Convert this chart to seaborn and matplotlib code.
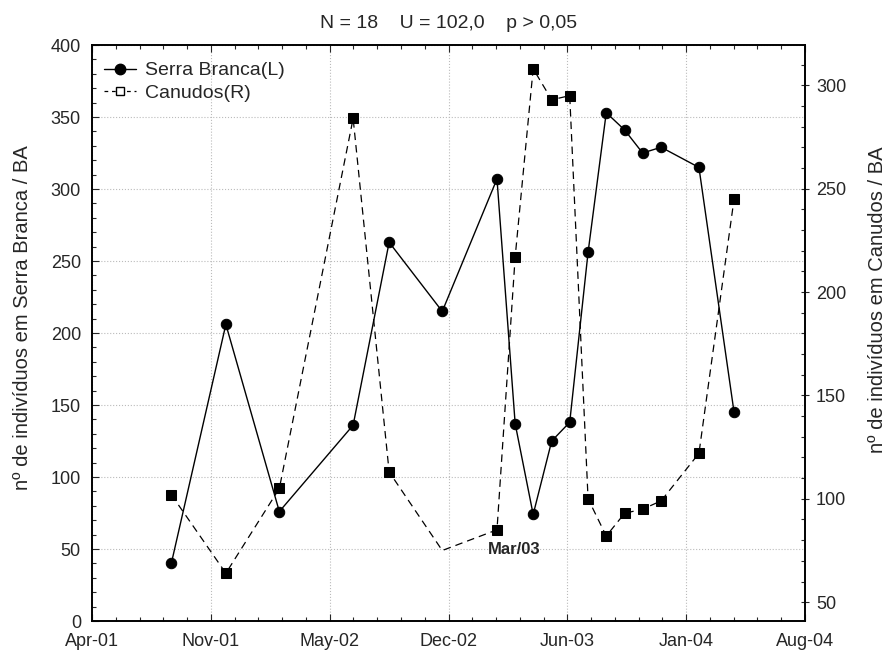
import matplotlib
matplotlib.use("Agg")
import matplotlib.pyplot as plt
from matplotlib.lines import Line2D
from matplotlib.ticker import AutoMinorLocator, MultipleLocator
import numpy as np
import pandas as pd
import seaborn as sns

# datas das coletas (meses desde Apr-01)
meses = [4.45, 7.51, 10.51, 14.65, 16.67, 19.65, 22.72, 23.74, 24.75,
         25.79, 26.80, 27.83, 28.85, 29.88, 30.89, 31.93, 34.05, 36.02]
serra_branca = [40, 206, 76, 136, 263, 215, 307, 137, 74,
                125, 138, 256, 353, 341, 325, 329, 315, 145]
canudos = [102, 64, 105, 284, 113, 75, 85, 217, 308,
           293, 295, 100, 82, 93, 95, 99, 122, 245]
# ponto sem marcador na curva de Canudos (Dec-02)
sem_marcador = [5]

xticks_labels = ['Apr-01', 'Nov-01', 'May-02', 'Dec-02', 'Jun-03', 'Jan-04', 'Aug-04']
titulo = 'N = 18    U = 102,0    p > 0,05'

df = pd.DataFrame({'mes': meses, 'serra': serra_branca, 'canudos': canudos})

sns.set_style('ticks')
plt.rcParams['font.family'] = ['Liberation Sans', 'DejaVu Sans']

fig = plt.figure(figsize=(8.86, 6.53), dpi=100)
ax = fig.add_axes([92 / 886, 32 / 653, 713 / 886, 576 / 653])
ax2 = ax.twinx()

# 1. Serra Branca (eixo esquerdo)
sns.lineplot(data=df, x='mes', y='serra', ax=ax, color='black', lw=1.0,
             marker='o', markersize=7.5, markeredgecolor='black')

# 2. Canudos (eixo direito)
marcas = [i for i in range(len(canudos)) if i not in sem_marcador]
sns.lineplot(data=df, x='mes', y='canudos', ax=ax2, color='black', lw=0.9,
             marker='s', markersize=7, markeredgecolor='black',
             markevery=marcas, dashes=False, linestyle=(0, (6, 4)))

ax2.text(23.66, 75.6, 'Mar/03', ha='center', va='center',
         fontsize=12, fontweight='bold')

# 3. Eixos
ax.set_xlim(0, 40)
ax.set_xticks(np.linspace(0, 40, 7))
ax.set_xticklabels(xticks_labels)
ax.xaxis.set_minor_locator(AutoMinorLocator(5))
ax.set_ylim(0, 400)
ax.yaxis.set_major_locator(MultipleLocator(50))
ax.yaxis.set_minor_locator(AutoMinorLocator(5))
ax2.set_ylim(40.9, 319.5)
ax2.set_yticks([50, 100, 150, 200, 250, 300])
ax2.yaxis.set_minor_locator(AutoMinorLocator(5))

ax.tick_params(which='both', direction='in', top=True, width=0.8)
ax.tick_params(which='major', length=5)
ax.tick_params(which='minor', length=3)
ax.tick_params(axis='x', which='major', labelsize=13, pad=9)
ax.tick_params(axis='y', which='major', labelsize=13, pad=8)
ax2.tick_params(which='major', direction='inout', labelsize=13, length=6,
                width=0.8, pad=5)
ax2.tick_params(which='minor', direction='in', length=3, width=0.8)

ax.grid(True, which='major', color='#bbbbbb', linestyle=':', lw=0.8)
ax.set_xlabel('')
ax.set_ylabel('nº de indivíduos em Serra Branca / BA', fontsize=14.5)
ax.yaxis.set_label_coords(-0.084, 0.526)
ax2.set_ylabel('nº de indivíduos em Canudos / BA', fontsize=14.5, rotation=90)
ax2.yaxis.set_label_coords(1.088, 0.557)
for a in (ax, ax2):
    for s in a.spines.values():
        s.set_linewidth(1.2)
        s.set_color('black')

ax.set_title(titulo, fontsize=14, pad=12)

# 4. Legenda
handles = [
    Line2D([], [], color='black', lw=1.0, marker='o', markersize=7.5),
    Line2D([], [], color='black', lw=0.9, linestyle=(0, (3, 3)), marker='s',
           markersize=5.5, markerfacecolor='white'),
]
ax.legend(handles, ['Serra Branca(L)', 'Canudos(R)'], loc='upper left',
          bbox_to_anchor=(0, 0.991), frameon=False, fontsize=14,
          handlelength=1.65, handletextpad=0.5, borderaxespad=0.2,
          borderpad=0.4, labelspacing=0.25)

fig.savefig('out.png', dpi=100)
plt.close(fig)
